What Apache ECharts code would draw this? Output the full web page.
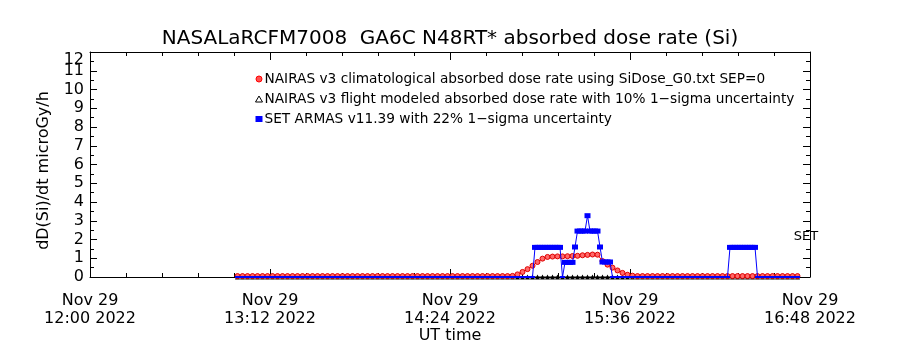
<!DOCTYPE html>
<html>
<head>
<meta charset="utf-8">
<script src="https://cdn.jsdelivr.net/npm/echarts@6/dist/echarts.min.js"></script>
<style>
  html, body { margin: 0; padding: 0; background: #fff; }
  #chart { width: 900px; height: 350px; }
</style>
</head>
<body>
<div id="chart"></div>
<script>
// Time is in UT minutes of the day (720 = 12:00).
const xTickValues = [720, 792, 864, 936, 1008];
const xTickLabels = ['Nov 29\n12:00 2022', 'Nov 29\n13:12 2022', 'Nov 29\n14:24 2022', 'Nov 29\n15:36 2022', 'Nov 29\n16:48 2022'];
const yTickLabels = ['0', '1', '2', '3', '4', '5', '6', '7', '8', '9', '10', '11', '12'];

// NAIRAS model output is on a 2-minute grid from 12:59 to 16:43 UT.
const modelStart = 779;
const modelStep = 2;

// NAIRAS v3 climatological absorbed dose rate (microGy/h)
const nairasClim = [
  0.05, 0.05, 0.05, 0.05, 0.05, 0.05, 0.05, 0.05, 0.05, 0.05,
  0.05, 0.05, 0.05, 0.05, 0.05, 0.05, 0.05, 0.05, 0.05, 0.05,
  0.05, 0.05, 0.05, 0.05, 0.05, 0.05, 0.05, 0.05, 0.05, 0.05,
  0.05, 0.05, 0.05, 0.05, 0.05, 0.05, 0.05, 0.05, 0.05, 0.05,
  0.05, 0.05, 0.05, 0.05, 0.05, 0.05, 0.05, 0.05, 0.05, 0.05,
  0.05, 0.05, 0.05, 0.05, 0.05,
  0.06, 0.14, 0.27, 0.42, 0.60, 0.80, 0.98, 1.07, 1.09, 1.10,
  1.10, 1.11, 1.12, 1.13, 1.16, 1.18, 1.20, 1.19, 0.85, 0.66,
  0.50, 0.35, 0.22, 0.12, 0.07, 0.05,
  0.05, 0.05, 0.05, 0.05, 0.05, 0.05, 0.05, 0.05, 0.05, 0.05,
  0.05, 0.05, 0.05, 0.05, 0.05, 0.05, 0.05, 0.05, 0.05, 0.05,
  0.05, 0.05, 0.05, 0.05, 0.05, 0.05, 0.05, 0.05, 0.05, 0.05,
  0.05, 0.05
];

// NAIRAS v3 flight modeled absorbed dose rate (microGy/h)
const nairasFlight = [
  0, 0, 0, 0, 0, 0, 0, 0, 0, 0, 0, 0, 0, 0, 0, 0, 0, 0, 0, 0,
  0, 0, 0, 0, 0, 0, 0, 0, 0, 0, 0, 0, 0, 0, 0, 0, 0, 0, 0, 0,
  0, 0, 0, 0, 0, 0, 0, 0, 0, 0, 0, 0, 0, 0, 0, 0, 0, 0, 0, 0,
  0, 0, 0, 0, 0, 0, 0, 0, 0, 0, 0, 0, 0, 0, 0, 0, 0, 0, 0, 0,
  0, 0, 0, 0, 0, 0, 0, 0, 0, 0, 0, 0, 0, 0, 0, 0, 0, 0, 0, 0,
  0, 0, 0, 0, 0, 0, 0, 0, 0, 0, 0, 0, 0
];

// SET ARMAS v11.39 measurements
const armasTimes = [
  779, 781, 783, 785, 787, 789, 791, 793, 795, 797,
  799, 801, 803, 805, 807, 809, 811, 813, 815, 817,
  819, 821, 823, 825, 827, 829, 831, 833, 835, 837,
  839, 841, 843, 845, 847, 849, 851, 853, 855, 857,
  859, 861, 863, 865, 867, 869, 871, 873, 875, 877,
  879, 881, 883, 885, 887, 889, 891, 893, 895, 896, 897,
  898, 899, 900, 901, 902, 903, 904, 905, 906, 907, 908,
  909, 910, 911, 912, 913, 914,
  915, 916, 917, 918, 919, 920, 921, 922, 923, 924,
  925, 926, 927, 928, 929,
  931, 933, 935, 937, 939, 941, 943, 945, 947, 949,
  951, 953, 955, 957, 959, 961, 963, 965, 967, 969,
  971, 973, 975,
  976, 977, 978, 979, 980, 981, 982, 983, 984, 985, 986,
  987, 989, 991, 993, 995, 997, 999, 1001, 1003
];
const armasValues = [
  0, 0, 0, 0, 0, 0, 0, 0, 0, 0,
  0, 0, 0, 0, 0, 0, 0, 0, 0, 0,
  0, 0, 0, 0, 0, 0, 0, 0, 0, 0,
  0, 0, 0, 0, 0, 0, 0, 0, 0, 0,
  0, 0, 0, 0, 0, 0, 0, 0, 0, 0,
  0, 0, 0, 0, 0, 0, 0, 0, 0, 0, 0,
  1.58, 1.58, 1.58, 1.58, 1.58, 1.58, 1.58, 1.58, 1.58, 1.58, 1.58,
  0, 0.78, 0.78, 0.78, 0.78, 1.6,
  2.45, 2.45, 2.45, 2.45, 3.27, 2.45, 2.45, 2.45, 2.45, 1.6,
  0.8, 0.8, 0.8, 0.8, 0,
  0, 0, 0, 0, 0, 0, 0, 0, 0, 0,
  0, 0, 0, 0, 0, 0, 0, 0, 0, 0,
  0, 0, 0,
  1.58, 1.58, 1.58, 1.58, 1.58, 1.58, 1.58, 1.58, 1.58, 1.58, 1.58,
  0, 0, 0, 0, 0, 0, 0, 0, 0
];

const seriesNames = [
  'NAIRAS v3 climatological absorbed dose rate using SiDose_G0.txt SEP=0',
  'NAIRAS v3 flight modeled absorbed dose rate with 10% 1\u2212sigma uncertainty',
  'SET ARMAS v11.39 with 22% 1\u2212sigma uncertainty'
];

const FONT = 'DejaVu Sans';
const Y_MAX = 12;

const modelPairs = (vals) => vals.map((v, i) => [modelStart + i * modelStep, v]);
const armasPairs = armasTimes.map((t, i) => [t, armasValues[i]]);

const chart = echarts.init(document.getElementById('chart'), null, { renderer: 'canvas' });

const axisLineStyle = { onZero: false, lineStyle: { color: '#000', width: 1 } };

const frameX = (extra) => Object.assign({
  type: 'value',
  min: 720,
  max: 1008,
  interval: 72,
  axisLine: axisLineStyle,
  axisTick: { inside: true, length: 8, lineStyle: { color: '#000' } },
  minorTick: { show: true, splitNumber: 5, length: 4, lineStyle: { color: '#000' } },
  splitLine: { show: false }
}, extra);

const frameY = (extra) => Object.assign({
  type: 'value',
  min: 0,
  max: Y_MAX,
  interval: 1,
  axisLine: axisLineStyle,
  axisTick: { inside: true, length: 7, lineStyle: { color: '#000' } },
  minorTick: { show: true, splitNumber: 2, length: 4, lineStyle: { color: '#000' } },
  splitLine: { show: false }
}, extra);

const yLabelBase = { margin: 6, fontFamily: FONT, fontSize: 16, color: '#000', showMinLabel: true, showMaxLabel: true };

chart.setOption({
  animation: false,
  backgroundColor: '#fff',
  textStyle: { fontFamily: FONT, color: '#000' },
  title: {
    text: 'NASALaRCFM7008  GA6C N48RT* absorbed dose rate (Si)',
    left: 'center',
    top: 24,
    textStyle: { fontFamily: FONT, fontSize: 20, fontWeight: 'normal', color: '#000' }
  },
  legend: {
    orient: 'vertical',
    left: 250,
    top: 67,
    itemGap: 6,
    itemWidth: 7,
    itemHeight: 6,
    textStyle: { fontFamily: FONT, fontSize: 13.7, color: '#000', padding: [0, 0, 0, -3] },
    data: [
      { name: seriesNames[0], icon: 'circle', itemStyle: { color: '#ff5050', borderColor: '#ff0000', borderWidth: 1 } },
      { name: seriesNames[1], icon: 'triangle', itemStyle: { color: '#fff', borderColor: '#000', borderWidth: 1 } },
      { name: seriesNames[2], icon: 'rect', itemStyle: { color: '#0000ff' } }
    ]
  },
  grid: { left: 90, right: 90, top: 52, bottom: 73, outerBoundsMode: 'none' },
  xAxis: [
    frameX({
      name: 'UT time',
      nameLocation: 'middle',
      nameGap: 51,
      nameMoveOverlap: false,
      nameTextStyle: { fontFamily: FONT, fontSize: 16, color: '#000' },
      axisLabel: {
        margin: 15,
        fontFamily: FONT,
        fontSize: 16,
        lineHeight: 18,
        color: '#000',
        formatter: (v) => xTickLabels[xTickValues.indexOf(v)] || ''
      }
    }),
    frameX({ position: 'top', axisLabel: { show: false } })
  ],
  yAxis: [
    frameY({
      name: 'dD(Si)/dt microGy/h',
      nameLocation: 'middle',
      nameGap: 38,
      nameRotate: 90,
      nameMoveOverlap: false,
      nameTextStyle: { fontFamily: FONT, fontSize: 16, color: '#000', padding: [0, 12, 0, 0] },
      // the top label sits on its own axis below so it can hang under the frame edge
      axisLabel: Object.assign({}, yLabelBase, {
        formatter: (v) => (v === Y_MAX ? '' : yTickLabels[v] || '')
      })
    }),
    frameY({ position: 'right', axisLabel: { show: false } }),
    frameY({
      position: 'left',
      axisLine: { show: false, onZero: false },
      axisTick: { show: false },
      minorTick: { show: false },
      axisLabel: Object.assign({}, yLabelBase, {
        verticalAlignMaxLabel: 'top',
        formatter: (v) => (v === Y_MAX ? yTickLabels[v] : '')
      })
    })
  ],
  series: [
    {
      name: seriesNames[0],
      type: 'line',
      data: modelPairs(nairasClim),
      symbol: 'circle',
      symbolSize: 5,
      showAllSymbol: true,
      lineStyle: { color: '#ff0000', width: 1 },
      itemStyle: { color: '#ff6a6a', borderColor: '#e00000', borderWidth: 1 },
      z: 3
    },
    {
      name: seriesNames[1],
      type: 'line',
      data: modelPairs(nairasFlight),
      symbol: 'triangle',
      symbolSize: 5,
      showAllSymbol: true,
      lineStyle: { color: '#000', width: 1 },
      itemStyle: { color: '#000' },
      z: 2
    },
    {
      name: seriesNames[2],
      type: 'line',
      data: armasPairs,
      symbol: 'rect',
      symbolSize: (v) => (v[1] === 0 ? [5, 2] : [6, 5]),
      showAllSymbol: true,
      lineStyle: { color: '#0000ff', width: 1 },
      itemStyle: { color: '#0000ff' },
      z: 4,
      markPoint: {
        symbol: 'circle',
        symbolSize: 0,
        silent: true,
        itemStyle: { color: 'transparent' },
        data: [{ coord: [1001.5, 2.13], value: 'SET' }],
        label: {
          show: true,
          position: 'right',
          distance: 0,
          formatter: 'SET',
          fontFamily: FONT,
          fontSize: 13,
          color: '#000'
        }
      }
    }
  ]
});
</script>
</body>
</html>
